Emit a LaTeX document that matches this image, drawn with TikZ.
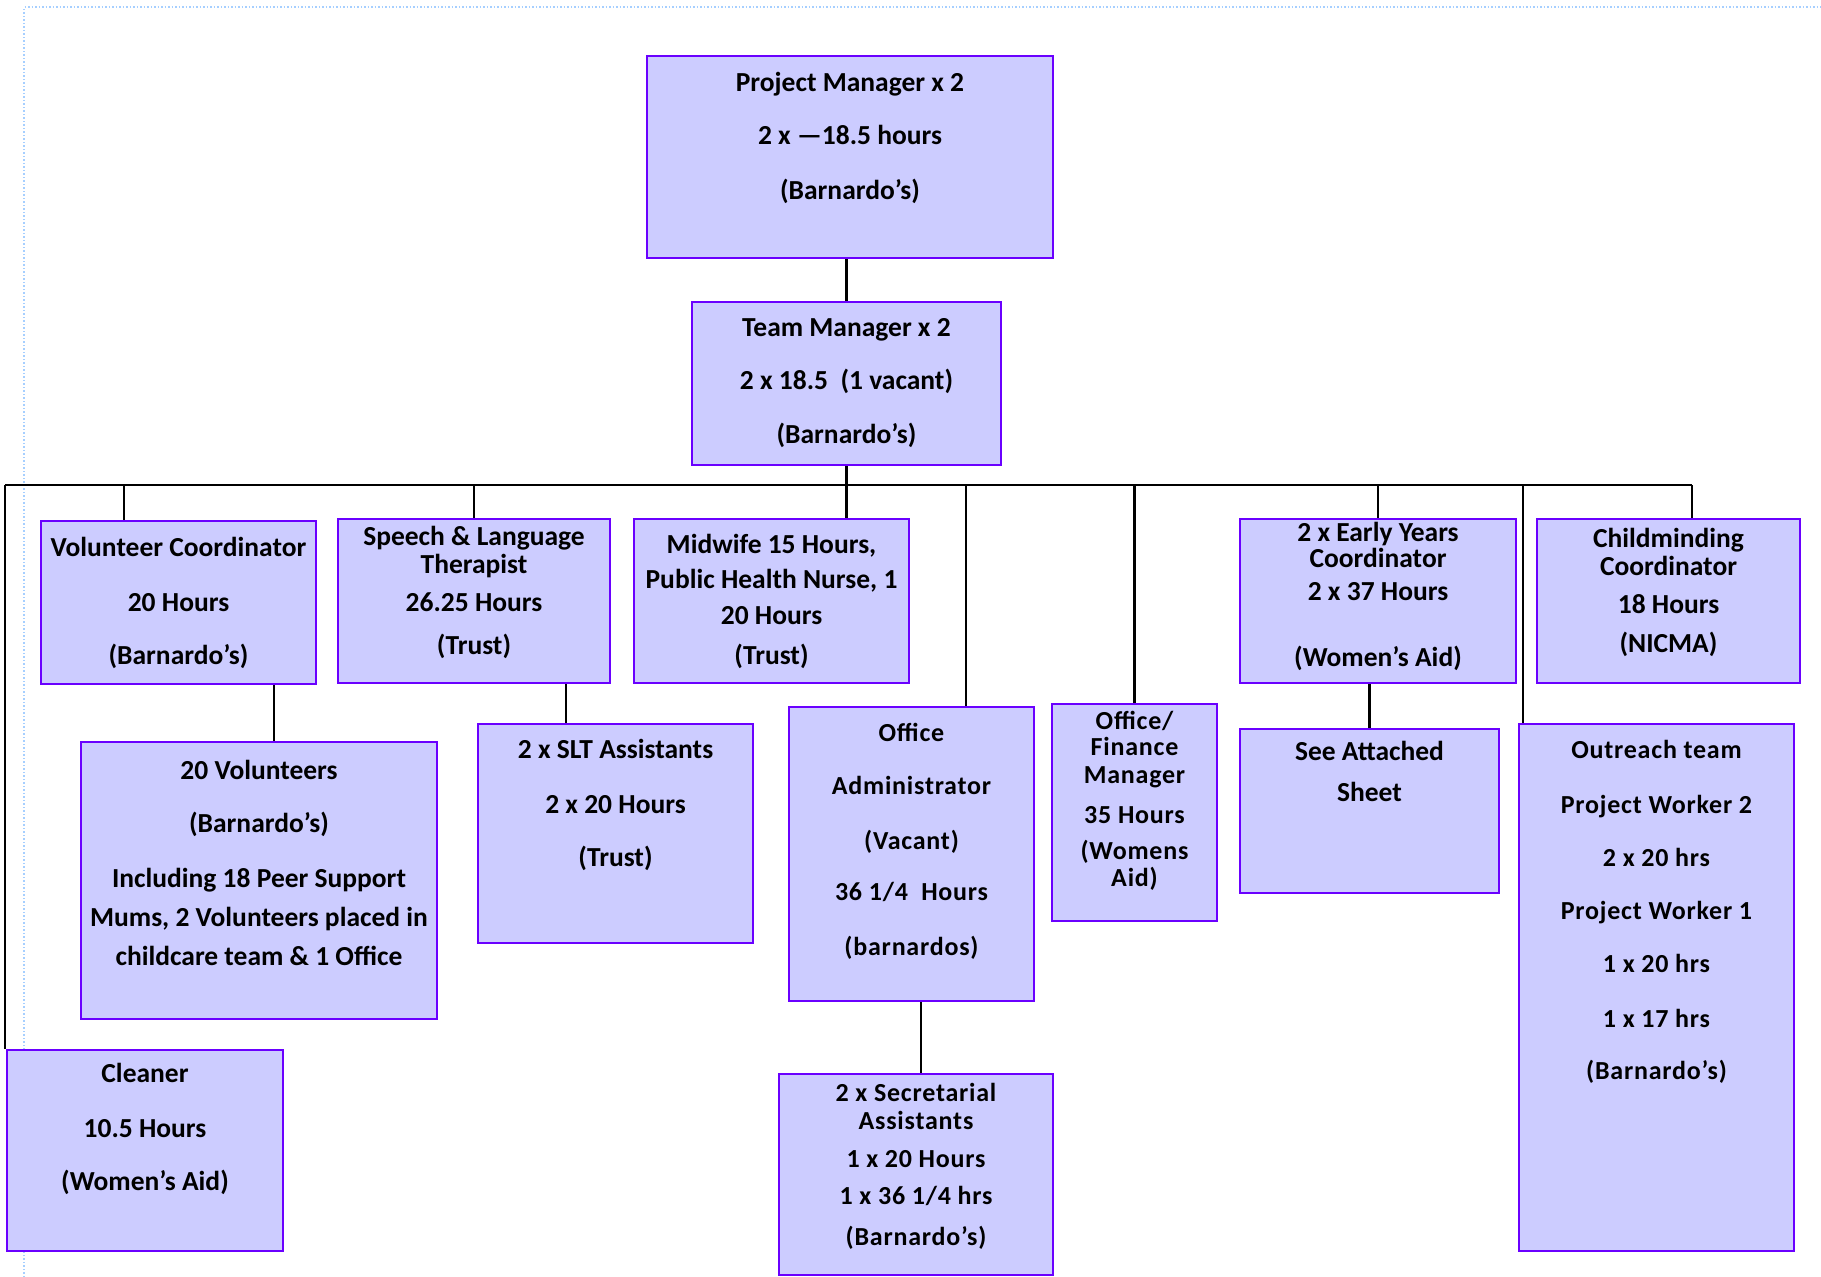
\documentclass[tikz,border=0pt]{standalone}
\usepackage{fontspec}
\setmainfont{Carlito}
\newfontfamily\widefont[LetterSpace=3]{Carlito}
\usetikzlibrary{calc, positioning}
\definecolor{boxfill}{HTML}{CCCCFF}
\definecolor{boxline}{HTML}{6A00FF}
\definecolor{frameblue}{HTML}{A6CFFF}
\tikzstyle{post}=[rectangle, draw=boxline, fill=boxfill, line width=2.8pt, inner sep=0pt]
\tikzstyle{txt}=[align=center, inner sep=0pt, font=\bfseries\fontsize{27.5}{28}\selectfont]
\tikzstyle{widetxt}=[align=center, inner sep=0pt, font=\widefont\bfseries\fontsize{26}{28}\selectfont]

\begin{document}
\begin{tikzpicture}[x=1pt, y=-1pt, line width=2.2pt]
\useasboundingbox (0,0) rectangle (1821,1277);
\draw [frameblue, dotted, line width=1.5pt] (24,1277) -- (24,7) -- (1821,7);

% top of the tree
\node [post, minimum width=406, minimum height=202, label={[txt,yshift=19]center:{Project Manager x 2\\[25pt]2 x —18.5 hours\\[27pt](Barnardo’s)}}] (pm) at (850,157){};
\node [post, minimum width=309, minimum height=163, label={[txt]center:{Team Manager x 2\\[25pt]2 x 18.5~~(1 vacant)\\[26pt](Barnardo’s)}}] (tm) at (846.5,383.5){};

% first row
\node [post, minimum width=275, minimum height=163, label={[txt]center:{Volunteer Coordinator\\[27pt]20 Hours\\[25pt](Barnardo’s)}}] (vc) at (178.5,602.5){};
\node [post, minimum width=272, minimum height=164, label={[txt,yshift=8.5]center:{Speech \& Language\\Therapist\\[10pt]26.25 Hours\\[15pt](Trust)}}] (sl) at (474,601){};
\node [post, minimum width=275, minimum height=164, label={[txt]center:{Midwife 15 Hours,\\[7pt]Public Health Nurse, 1\\[8pt]20 Hours\\[12pt](Trust)}}] (mw) at (771.5,601){};
\node [post, minimum width=276, minimum height=164, label={[txt,yshift=4.5]center:{2 x Early Years\\[-2pt]Coordinator\\[5pt]2 x 37 Hours\\[38pt](Women’s Aid)}}] (ey) at (1378,601){};
\node [post, minimum width=263, minimum height=164, label={[txt,yshift=8.5]center:{Childminding\\Coordinator\\[10pt]18 Hours\\[11pt](NICMA)}}] (cm) at (1668.5,601){};

% second row
\node [post, minimum width=356, minimum height=277, label={[txt,yshift=17.5]center:{20 Volunteers\\[25pt](Barnardo’s)\\[27pt]Including 18 Peer Support\\[11pt]Mums, 2 Volunteers placed in\\[11pt]childcare team \& 1 Office}}] (vol) at (259,880.5){};
\node [post, minimum width=275, minimum height=219, label={[txt,yshift=28.5]center:{2 x SLT Assistants\\[27pt]2 x 20 Hours\\[25pt](Trust)}}] (slt) at (615.5,833.5){};
\node [post, minimum width=245, minimum height=294, label={[widetxt,yshift=13]center:{Office\\[25pt]Administrator\\[27pt](Vacant)\\[23pt]36 1/4~~Hours\\[27pt](barnardos)}}] (oa) at (911.5,854){};
\node [post, minimum width=165, minimum height=217, label={[widetxt,yshift=12]center:{Office/\\[-2pt]Finance\\Manager\\[12pt]35 Hours\\[8pt](Womens\\[-1pt]Aid)}}] (of) at (1134.5,812.5){};
\node [post, minimum width=259, minimum height=164, label={[txt,yshift=39.5]center:{See Attached\\[13pt]Sheet}}] (sa) at (1369.5,811){};
\node [post, minimum width=275, minimum height=527, label={[widetxt,yshift=76]center:{Outreach team\\[27pt]Project Worker 2\\[25pt]2 x 20 hrs\\[25pt]Project Worker 1\\[25pt]1 x 20 hrs\\[27pt]1 x 17 hrs\\[24pt](Barnardo’s)}}] (ot) at (1656.5,987.5){};

% bottom row
\node [post, minimum width=276, minimum height=201, label={[txt,yshift=21.5]center:{Cleaner\\[27pt]10.5 Hours\\[25pt](Women’s Aid)}}] (cl) at (145,1150.5){};
\node [post, minimum width=274, minimum height=201, label={[widetxt,yshift=8.5]center:{2 x Secretarial\\Assistants\\[10pt]1 x 20 Hours\\[9pt]1 x 36 1/4 hrs\\[13pt](Barnardo’s)}}] (sec) at (916,1174.5){};

% bus
\coordinate (bus-w) at (5,485); \coordinate (bus-e) at (1692,485);
\draw (tm.north |- pm.south) -- (tm.north);
\draw (bus-w) -- (bus-e);
\draw (bus-w) -- (bus-w |- cl.north);
\draw ([xshift=-54.5]vc.north) -- ([xshift=-54.5]vc.north |- bus-w);
\draw (sl.north) -- (sl.north |- bus-w);
\draw (tm.south) -- (tm.south |- mw.north);
\draw ([xshift=54.5]oa.north) -- ([xshift=54.5]oa.north |- bus-w);
\draw (of.north) -- (of.north |- bus-w);
\draw (ey.north) -- (ey.north |- bus-w);
\draw ([xshift=5]ot.north west) -- ([xshift=5]ot.north west |- bus-w);
\draw (bus-e) -- (bus-e |- cm.north);
\draw ([xshift=15]vol.north) -- ([xshift=15]vol.north |- vc.south);
\draw ([xshift=-49.5]slt.north) -- ([xshift=-49.5]slt.north |- sl.south);
\draw ([xshift=5]sec.north) -- ([xshift=5]sec.north |- oa.south);
\draw (sa.north) -- (sa.north |- ey.south);
\end{tikzpicture}
\end{document}
